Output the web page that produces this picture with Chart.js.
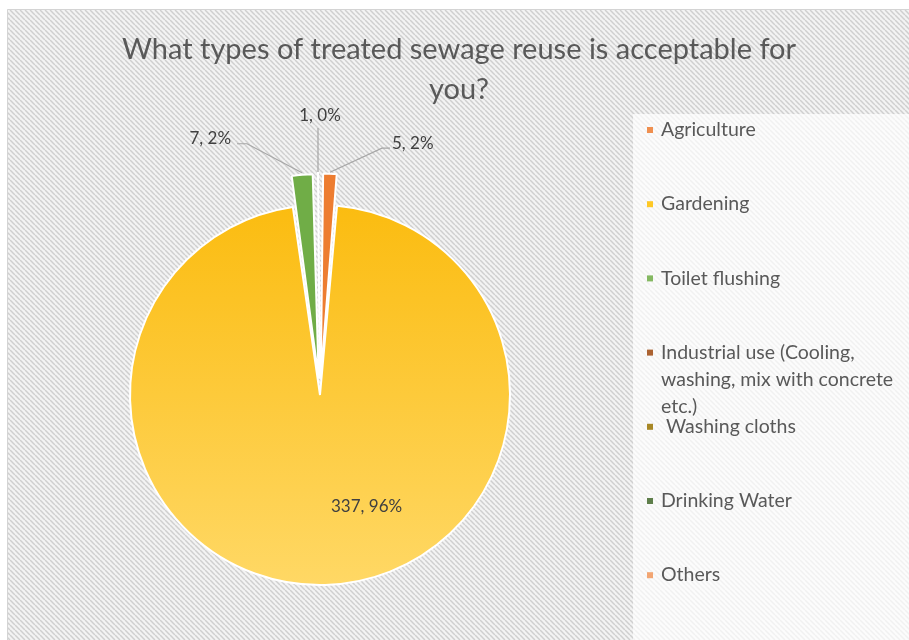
<!DOCTYPE html>
<html>
<head>
<meta charset="utf-8">
<script src="https://cdn.jsdelivr.net/npm/chart.js@4"></script>
<style>
  html, body { margin: 0; padding: 0; background: #fff; }
  #wrap { width: 909px; height: 640px; position: relative; }
</style>
</head>
<body>
<div id="wrap"><canvas id="graphic"></canvas></div>
<script>
var titleLines = ['What types of treated sewage reuse is acceptable for', 'you?'];
var categories = ['Agriculture', 'Gardening', 'Toilet flushing', 'Industrial use (Cooling, washing, mix with concrete etc.)', ' Washing cloths', 'Drinking Water', 'Others'];
var counts = [5, 337, 7, 1, 0, 0, 0];
var percentLabels = ['2%', '96%', '2%', '0%', '0%', '0%', '0%'];
var sliceColors = ['#ED7D31', '#FFC000', '#70AD47', '#9E480E', '#997300', '#43682B', '#F1975A'];

var FONT = 'Lato, "Open Sans", sans-serif';
var TEXT = '#595959';

function hatch(ctx) {
    var c = document.createElement('canvas');
    c.width = 5; c.height = 5;
    var g = c.getContext('2d');
    g.fillStyle = '#f3f3f3';
    g.fillRect(0, 0, 5, 5);
    g.strokeStyle = '#cfcfcf';
    g.lineWidth = 1.5;
    for (var k = -5; k <= 5; k += 5) {
        g.beginPath();
        g.moveTo(k, 0);
        g.lineTo(k + 5, 5);
        g.stroke();
    }
    return ctx.createPattern(c, 'repeat');
}

var backdrop = {
    id: 'backdrop',
    beforeDraw: function(chart) {
        var ctx = chart.ctx;
        ctx.save();
        ctx.fillStyle = '#fff';
        ctx.fillRect(0, 0, chart.width, chart.height);
        ctx.fillStyle = hatch(ctx);
        ctx.fillRect(7, 9, chart.width - 7, chart.height - 9);
        ctx.strokeStyle = '#d4d4d4';
        ctx.lineWidth = 1;
        ctx.beginPath();
        ctx.moveTo(7.5, chart.height);
        ctx.lineTo(7.5, 9.5);
        ctx.lineTo(chart.width, 9.5);
        ctx.stroke();
        // legend panel
        ctx.fillStyle = 'rgba(255,255,255,0.7)';
        ctx.fillRect(633, 114, chart.width - 633, chart.height - 114);
        // title
        ctx.fillStyle = TEXT;
        ctx.font = '29px ' + FONT;
        ctx.textAlign = 'center';
        ctx.textBaseline = 'middle';
        titleLines.forEach(function(t, i) {
            ctx.fillText(t, 459, 50 + i * 40);
        });
        ctx.restore();
    }
};

function wrapText(ctx, text, maxWidth) {
    var words = text.split(' ');
    var lines = [];
    var line = null;
    words.forEach(function(w) {
        var test = line === null ? w : line + ' ' + w;
        if (line && ctx.measureText(test).width > maxWidth) {
            lines.push(line);
            line = w;
        } else {
            line = test;
        }
    });
    lines.push(line);
    return lines;
}

var legendAndLabels = {
    id: 'legendAndLabels',
    afterDraw: function(chart) {
        var ctx = chart.ctx;
        ctx.save();
        // legend
        ctx.font = '19.5px ' + FONT;
        ctx.textBaseline = 'middle';
        ctx.textAlign = 'left';
        categories.forEach(function(name, i) {
            var y = 130 + i * 74.2;
            ctx.fillStyle = sliceColors[i];
            ctx.globalAlpha = 0.85;
            ctx.fillRect(647, y - 3, 6, 6);
            ctx.globalAlpha = 1;
            ctx.fillStyle = TEXT;
            var lines = wrapText(ctx, name, 244);
            lines.forEach(function(l, j) {
                ctx.fillText(l, 661, y + j * 27);
            });
        });

        // data labels
        var meta = chart.getDatasetMeta(0);
        var ds = chart.data.datasets[0];
        ctx.font = '17px ' + FONT;
        ctx.fillStyle = '#404040';
        ctx.strokeStyle = '#a6a6a6';
        ctx.lineWidth = 1.2;
        meta.data.forEach(function(arc, i) {
            if (!counts[i]) return;
            var p = arc.getProps(['x', 'y', 'startAngle', 'endAngle', 'outerRadius']);
            var mid = (p.startAngle + p.endAngle) / 2;
            var text = counts[i] + ', ' + percentLabels[i];
            if (i === 1) {
                var r = p.outerRadius * 0.5;
                ctx.textAlign = 'center';
                ctx.fillText(text, p.x + Math.cos(mid) * r + 44, p.y + Math.sin(mid) * r + 17);
                return;
            }
            // arc offset is applied at half its value when drawn
            var off = ds.offset[i] / 2;
            var ax = p.x + Math.cos(mid) * (p.outerRadius + off);
            var ay = p.y + Math.sin(mid) * (p.outerRadius + off);
            ctx.beginPath();
            ctx.moveTo(ax, ay);
            if (i === 0) {
                ctx.lineTo(ax + 52, ay - 24);
                ctx.lineTo(ax + 60, ay - 24);
                ctx.stroke();
                ctx.textAlign = 'left';
                ctx.fillText(text, ax + 62, ay - 29);
            } else if (i === 2) {
                ctx.lineTo(ax - 55, ay - 29);
                ctx.lineTo(ax - 65, ay - 29);
                ctx.stroke();
                ctx.textAlign = 'right';
                ctx.fillText(text, ax - 71, ay - 34);
            } else {
                ctx.lineTo(ax, ay - 44);
                ctx.stroke();
                ctx.textAlign = 'center';
                ctx.fillText(text, ax + 2, ay - 56);
            }
        });
        ctx.restore();
    }
};

var ctx = document.getElementById('graphic').getContext('2d');

var sewageData = {
    labels: categories,
    datasets: [{
        data: counts,
        backgroundColor: function(c) {
            var i = c.dataIndex;
            var area = c.chart.chartArea;
            if (i !== 1 || !area) return sliceColors[i];
            var cy = (area.top + area.bottom) / 2;
            var grad = c.chart.ctx.createLinearGradient(0, cy - 190, 0, cy + 190);
            grad.addColorStop(0, '#fbbc10');
            grad.addColorStop(1, '#ffd865');
            return grad;
        },
        borderColor: '#ffffff',
        borderWidth: 2,
        offset: [66, 0, 66, 66, 66, 66, 66]
    }]
};

var sewageOptions = {
    responsive: true,
    maintainAspectRatio: false,
    animation: false,
    events: [],
    radius: 190,
    layout: {
        padding: { left: 10, right: 279, top: 150, bottom: 0 }
    },
    plugins: {
        legend: { display: false },
        title: { display: false },
        tooltip: { enabled: false }
    }
};

var graphic = new Chart(ctx, {
    type: 'pie',
    data: sewageData,
    options: sewageOptions,
    plugins: [backdrop, legendAndLabels]
});
</script>
</body>
</html>
